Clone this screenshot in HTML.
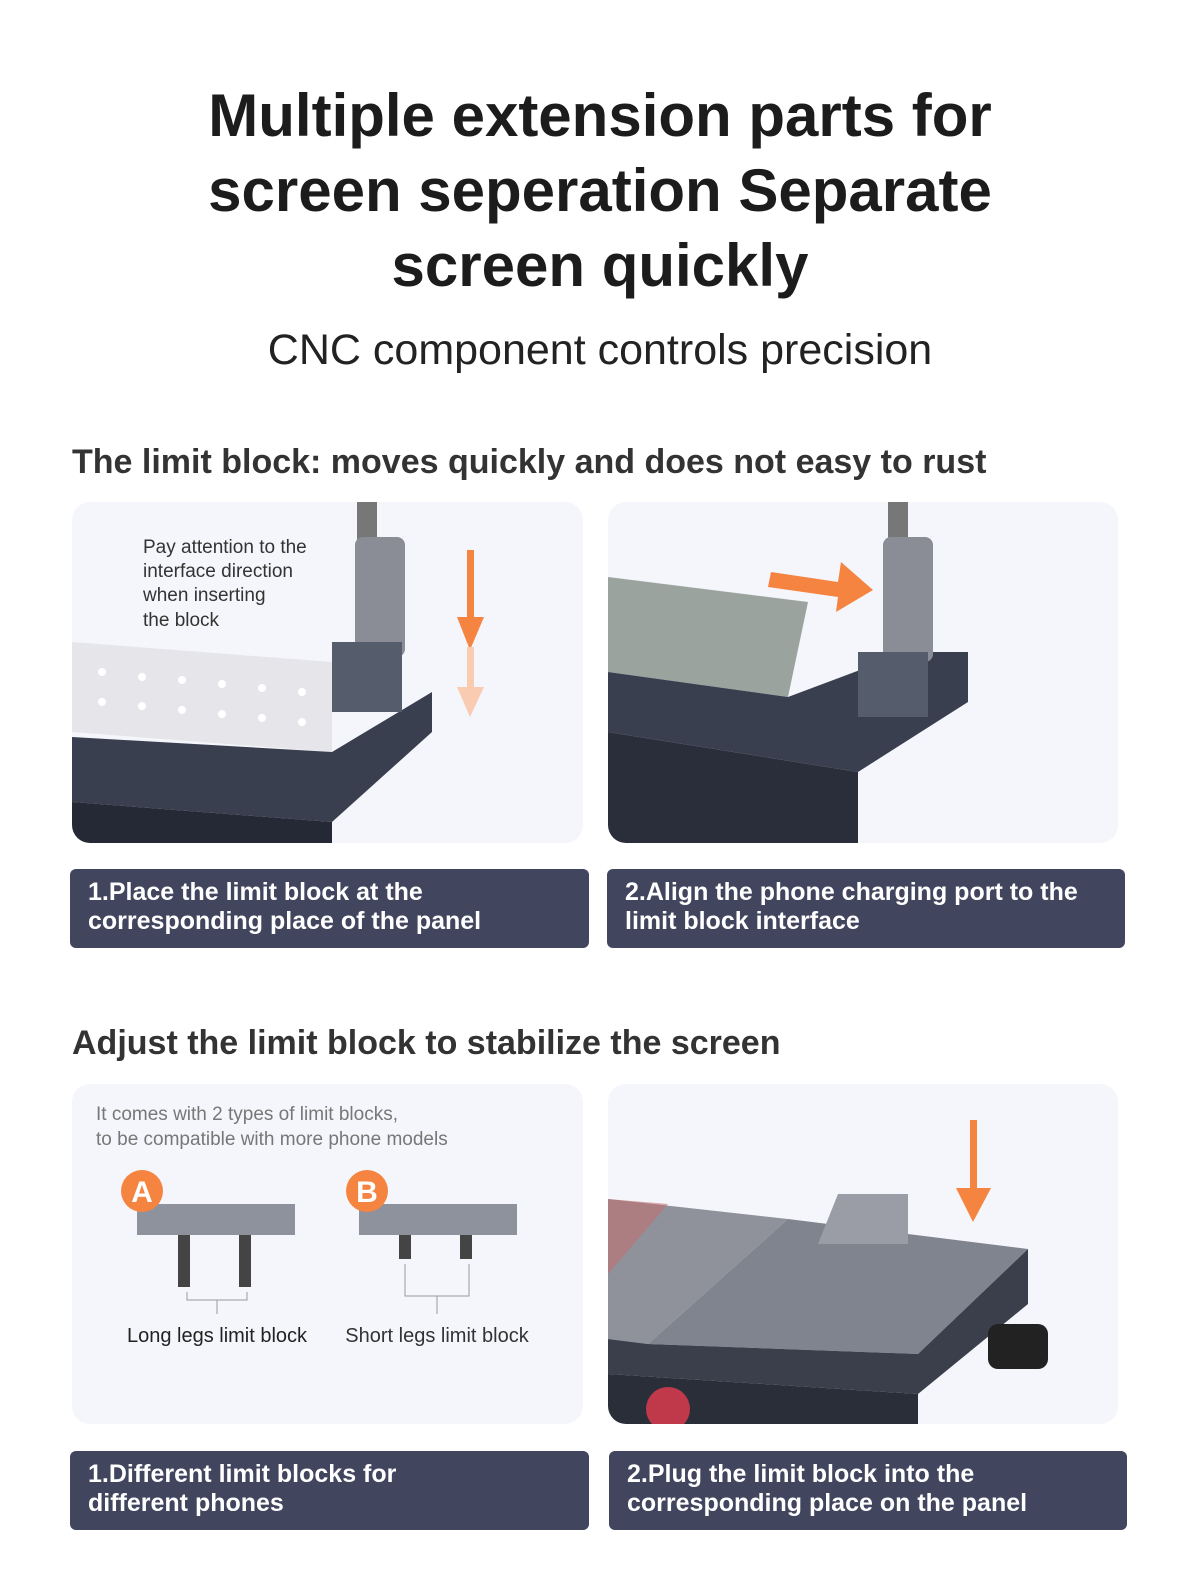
<!DOCTYPE html>
<html><head><meta charset="utf-8"><style>
*{margin:0;padding:0;box-sizing:border-box}
body{width:1200px;height:1581px;background:#fff;font-family:"Liberation Sans",sans-serif;position:relative;overflow:hidden;color:#1a1a1a}
.t{position:absolute;left:0;width:1200px;text-align:center;font-weight:bold;font-size:60px;line-height:75px;top:78px;color:#1c1c1c}
.sub{position:absolute;left:0;width:1200px;text-align:center;font-size:43px;top:326px;color:#222}
.h{position:absolute;left:72px;font-weight:bold;font-size:34px;color:#333}
.p{position:absolute;background:#f4f6fb;border-radius:18px;overflow:hidden}
.l{position:absolute;background:#41455e;border-radius:6px;color:#fff;font-size:25px;line-height:29px;padding:9px 18px;font-weight:bold}
svg{position:absolute;left:0;top:0}
</style></head><body>
<div class="t">Multiple extension parts for<br>screen seperation Separate<br>screen quickly</div>
<div class="sub">CNC component controls precision</div>
<div class="h" style="top:443px">The limit block: moves quickly and does not easy to rust</div>

<div class="p" style="left:72px;top:502px;width:511px;height:341px">
<svg width="511" height="341">
<polygon points="0,140 260,160 260,250 0,230" fill="#e6e6ea"/>
<g fill="#fff"><circle cx="30" cy="170" r="4"/><circle cx="70" cy="175" r="4"/><circle cx="110" cy="178" r="4"/><circle cx="150" cy="182" r="4"/><circle cx="190" cy="186" r="4"/><circle cx="230" cy="190" r="4"/><circle cx="30" cy="200" r="4"/><circle cx="70" cy="204" r="4"/><circle cx="110" cy="208" r="4"/><circle cx="150" cy="212" r="4"/><circle cx="190" cy="216" r="4"/><circle cx="230" cy="220" r="4"/></g>
<polygon points="0,235 260,250 360,190 360,230 260,320 0,300" fill="#3a3f50"/>
<polygon points="0,300 260,320 260,341 0,341" fill="#252935"/>
<rect x="285" y="0" width="20" height="40" fill="#777"/>
<rect x="283" y="35" width="50" height="120" rx="8" fill="#8a8d95"/>
<rect x="260" y="140" width="70" height="70" fill="#555c6c"/>
<rect x="395" y="48" width="7" height="70" fill="#f58440"/>
<polygon points="385,115 412,115 398,148" fill="#f58440"/>
<rect x="395" y="145" width="7" height="45" fill="#f9cbb0"/>
<polygon points="385,185 412,185 398,215" fill="#f9cbb0"/>
<text x="71" y="51" font-size="19" fill="#333" font-family="Liberation Sans">Pay attention to the</text>
<text x="71" y="75" font-size="19" fill="#333" font-family="Liberation Sans">interface direction</text>
<text x="71" y="99" font-size="19" fill="#333" font-family="Liberation Sans">when inserting</text>
<text x="71" y="124" font-size="19" fill="#333" font-family="Liberation Sans">the block</text>
</svg></div>

<div class="p" style="left:608px;top:502px;width:510px;height:341px">
<svg width="510" height="341">
<polygon points="0,75 200,100 180,195 0,170" fill="#9aa39d"/>
<polygon points="0,170 180,195 300,150 360,150 360,200 250,270 0,230" fill="#3a3f50"/>
<polygon points="0,230 250,270 250,341 0,341" fill="#2a2e3a"/>
<rect x="280" y="0" width="20" height="40" fill="#777"/>
<rect x="275" y="35" width="50" height="125" rx="8" fill="#8a8d95"/>
<rect x="250" y="150" width="70" height="65" fill="#555c6c"/>
<polygon points="163,70 230,80 233,60 265,88 228,110 230,95 160,85" fill="#f58440"/>
</svg></div>

<div class="l" style="left:70px;top:869px;width:519px;height:79px">1.Place the limit block at the<br>corresponding place of the panel</div>
<div class="l" style="left:607px;top:869px;width:518px;height:79px">2.Align the phone charging port to the<br>limit block interface</div>

<div class="h" style="top:1024px">Adjust the limit block to stabilize the screen</div>

<div class="p" style="left:72px;top:1084px;width:511px;height:340px">
<svg width="511" height="340" font-family="Liberation Sans">
<text x="24" y="36" font-size="19" fill="#777">It comes with 2 types of limit blocks,</text>
<text x="24" y="61" font-size="19" fill="#777">to be compatible with more phone models</text>
<rect x="65" y="120" width="158" height="31" fill="#8e929c"/>
<rect x="106" y="151" width="12" height="52" fill="#444"/><rect x="167" y="151" width="12" height="52" fill="#444"/>
<circle cx="70" cy="107" r="21" fill="#f58440"/><text x="70" y="118" font-size="30" fill="#fff" text-anchor="middle" font-weight="bold">A</text>
<polyline points="115,208 115,216 175,216 175,208" fill="none" stroke="#999"/><line x1="145" y1="216" x2="145" y2="230" stroke="#999"/>
<text x="145" y="258" font-size="20" fill="#222" text-anchor="middle">Long legs limit block</text>
<rect x="287" y="120" width="158" height="31" fill="#8e929c"/>
<rect x="327" y="151" width="12" height="24" fill="#444"/><rect x="388" y="151" width="12" height="24" fill="#444"/>
<circle cx="295" cy="107" r="21" fill="#f58440"/><text x="295" y="118" font-size="30" fill="#fff" text-anchor="middle" font-weight="bold">B</text>
<polyline points="333,180 333,212 397,212 397,180" fill="none" stroke="#999"/><line x1="365" y1="212" x2="365" y2="230" stroke="#999"/>
<text x="365" y="258" font-size="20" fill="#333" text-anchor="middle">Short legs limit block</text>
</svg></div>

<div class="p" style="left:608px;top:1084px;width:510px;height:340px">
<svg width="510" height="340">
<polygon points="0,115 180,135 40,260 0,255" fill="#8f929b"/>
<polygon points="0,115 60,120 0,190" fill="#c07070" opacity=".6"/>
<polygon points="180,135 420,165 310,270 40,260" fill="#80848e"/>
<polygon points="40,260 310,270 420,165 420,220 310,310 0,290 0,255" fill="#3b3f4b"/>
<polygon points="0,290 310,310 310,340 0,340" fill="#2a2e38"/>
<polygon points="230,110 300,110 300,160 210,160" fill="#9a9da6"/>
<rect x="362" y="36" width="7" height="70" fill="#f58440"/>
<polygon points="348,104 383,104 365,138" fill="#f58440"/>
<rect x="380" y="240" width="60" height="45" rx="10" fill="#222"/>
<circle cx="60" cy="325" r="22" fill="#c0394a"/>
</svg></div>

<div class="l" style="left:70px;top:1451px;width:519px;height:79px">1.Different limit blocks for<br>different phones</div>
<div class="l" style="left:609px;top:1451px;width:518px;height:79px">2.Plug the limit block into the<br>corresponding place on the panel</div>
</body></html>
